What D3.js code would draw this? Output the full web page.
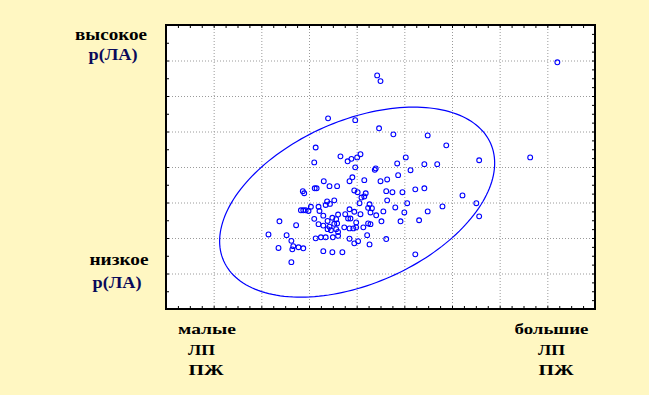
<!DOCTYPE html>
<html>
<head>
<meta charset="utf-8">
<script src="https://cdn.jsdelivr.net/npm/d3@7"></script>
<style>
  body { margin: 0; background: #fff7c2; }
  svg { display: block; }
  .grid line { stroke: #9a9a9a; stroke-dasharray: 1,2; }
  .grid path { display: none; }
  .minor path { display: none; }
  .minor line { stroke: #000; }
  .lbl { font-family: "Liberation Serif", "Times New Roman", serif; font-weight: bold; }
</style>
</head>
<body>
<script>
// scatter points (arbitrary units: x 0..9, y 0..8)
const ptX = [2.15, 2.36, 2.38, 2.53, 2.63, 2.67, 2.65, 2.78, 2.88, 2.63,
  2.73, 2.83, 2.88, 2.93, 2.99, 2.87, 2.90, 3.04, 3.11, 3.14,
  3.25, 3.35, 3.50, 3.30, 3.49, 3.70, 3.20, 3.30, 3.43, 3.39,
  3.46, 3.57, 3.53, 3.59, 3.49, 3.57, 3.39, 3.30, 3.61, 3.20,
  3.22, 3.35, 3.38, 3.44, 3.53, 3.12, 3.16, 3.11, 3.14, 3.31,
  3.43, 3.59, 3.40, 3.97, 4.43, 4.50, 4.47, 4.77, 3.66, 3.81,
  3.89, 4.01, 4.08, 5.03, 4.85, 3.97, 4.40, 4.38, 5.13, 3.91,
  3.85, 4.16, 4.50, 4.64, 4.87, 5.23, 3.95, 4.02, 4.19, 4.16,
  4.10, 4.62, 4.75, 4.96, 4.64, 4.06, 4.27, 5.06, 4.81, 4.24,
  4.32, 3.85, 3.95, 4.08, 4.29, 4.56, 5.00, 4.41, 3.76, 3.87,
  3.82, 4.52, 4.92, 5.31, 3.99, 4.24, 4.29, 3.74, 3.85, 3.93,
  3.99, 4.14, 3.61, 3.61, 4.22, 3.85, 3.95, 4.03, 4.27, 4.62,
  5.23, 5.49, 5.88, 5.42, 5.69, 6.57, 5.42, 6.22, 5.80, 5.49,
  6.51, 6.57, 8.21, 7.64]
const ptY = [2.10, 1.72, 2.47, 2.08, 1.92, 1.77, 1.68, 1.74, 1.71, 1.32,
  2.36, 2.78, 2.78, 2.78, 2.76, 3.32, 3.26, 2.88, 2.54, 1.99,
  2.02, 2.02, 2.02, 1.63, 1.60, 1.60, 2.39, 2.35, 2.32, 2.25,
  2.22, 2.25, 2.40, 2.41, 2.57, 2.53, 2.48, 2.63, 2.66, 2.88,
  2.76, 2.93, 3.03, 2.96, 3.06, 3.40, 3.40, 4.13, 4.55, 3.60,
  3.46, 3.46, 5.37, 5.32, 6.58, 6.42, 5.09, 4.92, 4.30, 4.16,
  4.23, 4.27, 4.36, 4.27, 4.10, 3.99, 3.96, 3.92, 3.91, 3.71,
  3.60, 3.63, 3.60, 3.65, 3.77, 3.37, 3.34, 3.29, 3.26, 3.17,
  3.14, 3.32, 3.29, 3.29, 3.06, 2.98, 2.95, 2.98, 2.86, 2.85,
  2.84, 2.81, 2.74, 2.67, 2.72, 2.75, 2.72, 2.64, 2.67, 2.55,
  2.55, 2.47, 2.47, 2.50, 2.44, 2.41, 2.39, 2.30, 2.27, 2.27,
  2.30, 2.30, 2.17, 2.06, 2.08, 1.98, 1.85, 1.91, 1.82, 1.97,
  1.54, 4.89, 4.61, 4.08, 4.08, 4.19, 3.40, 3.20, 2.89, 2.75,
  2.98, 2.61, 6.95, 4.27]

// confidence ellipse: centre and axis components (data units)
const ellCenter = [4.01, 3.01]
const ellAxisX = 2.885          // x = cx + ax*cos t
const ellAxisY = [1.10, 2.44]   // y = cy + b1*cos t + b2*sin t

const xGrid = [1, 2, 3, 4, 5, 6, 7, 8]
const yGrid = [1, 2, 3, 4, 5, 6, 7]

const W = 649
const H = 395
const margin = { top: 25, right: 54, bottom: 86, left: 166 }
const width = W - margin.left - margin.right
const height = H - margin.top - margin.bottom

const x = d3.scaleLinear().domain([0, 9]).range([0, width])
const y = d3.scaleLinear().domain([0, 8]).range([height, 0])

const svg = d3.select('body').append('svg')
  .attr('width', W)
  .attr('height', H)

const g = svg.append('g')
  .attr('transform', `translate(${margin.left},${margin.top})`)

g.append('rect')
  .attr('width', width)
  .attr('height', height)
  .attr('fill', '#fff')

// dotted grid
g.append('g')
  .attr('class', 'grid')
  .attr('transform', `translate(0,${height})`)
  .call(d3.axisBottom(x).tickValues(xGrid).tickSize(-height).tickFormat(''))

g.append('g')
  .attr('class', 'grid')
  .call(d3.axisLeft(y).tickValues(yGrid).tickSize(-width).tickFormat(''))

// small inward ticks on all four sides
const xMinor = d3.range(0, 9.001, 0.25)
const yHalf = d3.range(0, 8.001, 0.5)
const yQuarter = d3.range(0, 8.001, 0.25)

g.append('g').attr('class', 'minor')
  .attr('transform', `translate(0,${height})`)
  .call(d3.axisBottom(x).tickValues(xMinor).tickSize(-3).tickFormat(''))
g.append('g').attr('class', 'minor')
  .call(d3.axisTop(x).tickValues(xMinor).tickSize(-3).tickFormat(''))
g.append('g').attr('class', 'minor')
  .call(d3.axisLeft(y).tickValues(yHalf).tickSize(-3).tickFormat(''))
g.append('g').attr('class', 'minor')
  .attr('transform', `translate(${width},0)`)
  .call(d3.axisRight(y).tickValues(yQuarter).tickSize(-3).tickFormat(''))

// ellipse
const ts = d3.range(0, 2 * Math.PI + 0.001, Math.PI / 90)
const ellipse = d3.line()
  .x((t) => x(ellCenter[0] + ellAxisX * Math.cos(t)))
  .y((t) => y(ellCenter[1] + ellAxisY[0] * Math.cos(t) + ellAxisY[1] * Math.sin(t)))

g.append('path')
  .datum(ts)
  .attr('d', ellipse)
  .attr('fill', 'none')
  .attr('stroke', '#0000ff')
  .attr('stroke-width', 1.2)

// points
g.selectAll('.pt')
  .data(ptX)
  .enter()
  .append('circle')
  .attr('class', 'pt')
  .attr('cx', (d) => x(d))
  .attr('cy', (d, i) => y(ptY[i]))
  .attr('r', 2.4)
  .attr('fill', 'none')
  .attr('stroke', '#0000ff')
  .attr('stroke-width', 1.1)

// frame
g.append('rect')
  .attr('width', width)
  .attr('height', height)
  .attr('fill', 'none')
  .attr('stroke', '#000')
  .attr('stroke-width', 2)

// labels
const labels = [
  { t: 'высокое', x: 111, y: 39.5, w: 72, s: 16, c: '#000' },
  { t: 'р(ЛА)', x: 113, y: 59.5, w: 49, s: 16, c: '#0a0a5a' },
  { t: 'низкое', x: 119, y: 264.5, w: 59, s: 16, c: '#000' },
  { t: 'р(ЛА)', x: 117, y: 288, w: 49, s: 16, c: '#0a0a5a' },
  { t: 'малые', x: 207, y: 333.5, w: 58, s: 14, c: '#000' },
  { t: 'ЛП', x: 201.5, y: 355, w: 27, s: 14, c: '#000' },
  { t: 'ПЖ', x: 206, y: 375, w: 35, s: 14, c: '#000' },
  { t: 'большие', x: 551.5, y: 333.5, w: 74, s: 14, c: '#000' },
  { t: 'ЛП', x: 551.5, y: 355, w: 27, s: 14, c: '#000' },
  { t: 'ПЖ', x: 556, y: 375, w: 35, s: 14, c: '#000' }
]

svg.selectAll('.lbl')
  .data(labels)
  .enter()
  .append('text')
  .attr('class', 'lbl')
  .attr('x', (d) => d.x)
  .attr('y', (d) => d.y)
  .attr('text-anchor', 'middle')
  .attr('textLength', (d) => d.w)
  .attr('lengthAdjust', 'spacingAndGlyphs')
  .style('font-size', (d) => d.s + 'px')
  .style('fill', (d) => d.c)
  .text((d) => d.t)
</script>
</body>
</html>
